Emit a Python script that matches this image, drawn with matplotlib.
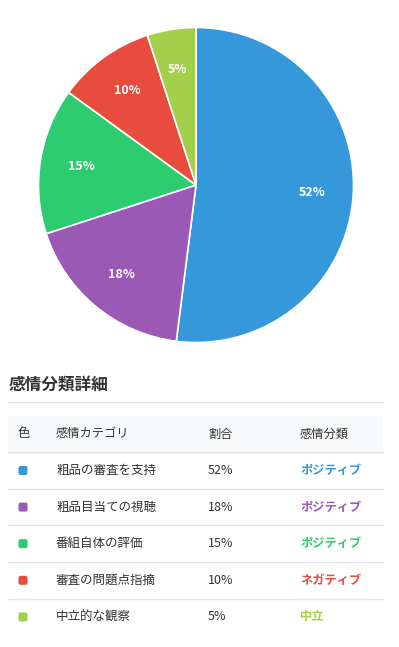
import matplotlib
matplotlib.use("Agg")
import matplotlib.pyplot as plt
from matplotlib.patches import FancyBboxPatch, Rectangle

plt.rcParams['font.family'] = ['Noto Sans CJK JP', 'DejaVu Sans']

categories = ["粗品の審査を支持", "粗品目当ての視聴", "番組自体の評価", "審査の問題点指摘", "中立的な観察"]
values = [52, 18, 15, 10, 5]
sentiments = ["ポジティブ", "ポジティブ", "ポジティブ", "ネガティブ", "中立"]
colors = ["#3498db", "#9b59b6", "#2ecc71", "#e74c3c", "#a4cf4a"]
title = "感情分類詳細"
headers = ["色", "感情カテゴリ", "割合", "感情分類"]

W, H = 399, 647
fig = plt.figure(figsize=(W / 100, H / 100), dpi=100)

# Pie
cx, cy, r = 196, 185, 157.5
axp = fig.add_axes([(cx - r) / W, 1 - (cy + r) / H, 2 * r / W, 2 * r / H])
wedges, texts = axp.pie(values, colors=colors, startangle=90, counterclock=False,
                        labels=[f"{v}%" for v in values], labeldistance=0.74,
                        wedgeprops=dict(edgecolor="white", linewidth=1.2),
                        textprops=dict(color="white", fontsize=9, fontweight="bold"))
for t in texts:
    t.set_ha("center"); t.set_va("center")
axp.set_xlim(-1, 1); axp.set_ylim(-1, 1)
axp.set_aspect("auto")
axp.axis("off")

# Table area
ax = fig.add_axes([0, 0, 1, 1])
ax.set_xlim(0, W); ax.set_ylim(H, 0)
ax.axis("off")

ax.text(9, 385, title, fontsize=12, fontweight="bold", color="#333333", va="center", ha="left")
ax.plot([8, 383], [402, 402], color="#e5e5e5", lw=1)

ax.add_patch(Rectangle((8, 416), 375, 36, facecolor="#f8f9fa", edgecolor="none"))
col_x = [18, 56, 208, 300]
for x, h in zip(col_x, headers):
    ax.text(x, 434, h, fontsize=8.8, color="#333333", va="center", ha="left")
ax.plot([8, 383], [452, 452], color="#dee2e6", lw=1)

row_h = 36.6
for i, (c, v, s, col) in enumerate(zip(categories, values, sentiments, colors)):
    yc = 470.5 + i * row_h
    ax.add_patch(FancyBboxPatch((18.5, yc - 4.5), 9, 9, boxstyle="round,pad=0,rounding_size=2",
                                facecolor=col, edgecolor="none"))
    ax.text(col_x[1], yc, c, fontsize=9, color="#333333", va="center", ha="left")
    ax.text(col_x[2], yc, f"{v}%", fontsize=9, color="#333333", va="center", ha="left")
    ax.text(col_x[3], yc, s, fontsize=8.8, color=col, fontweight="bold", va="center", ha="left")
    if i < len(categories) - 1:
        ax.plot([8, 383], [yc + 18.3, yc + 18.3], color="#e5e5e5", lw=1)

fig.savefig("out.png", dpi=100, facecolor="white")
